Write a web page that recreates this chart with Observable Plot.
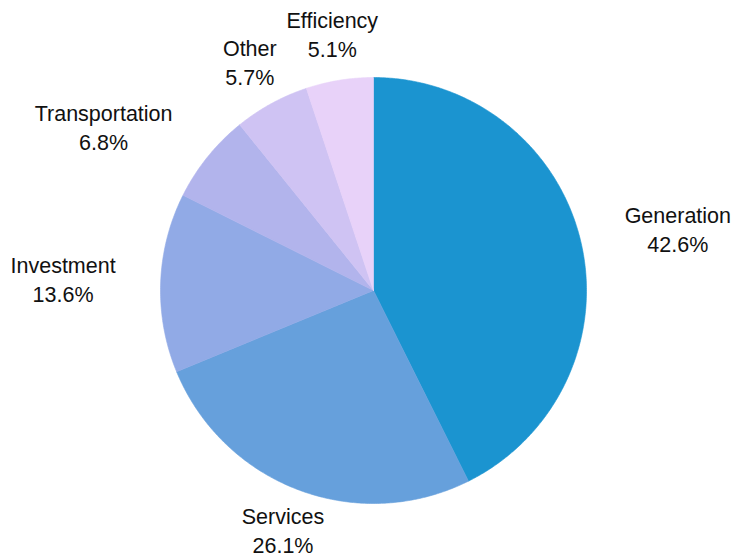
<!DOCTYPE html>
<html><head><meta charset="utf-8">
<script src="https://cdn.jsdelivr.net/npm/d3@7"></script>
<script src="https://cdn.jsdelivr.net/npm/@observablehq/plot@0.6"></script>
<style>body{margin:0;background:#fff}</style>
</head><body><div id="chart"></div>
<script>
const categories = ["Generation", "Services", "Investment", "Transportation", "Other", "Efficiency"];
const shares = [42.6, 26.1, 13.6, 6.8, 5.7, 5.1];
const colors = ["#1b94d0", "#66a0dc", "#91aae6", "#b2b4ec", "#cfc3f3", "#e8d2f9"];

const W = 733, H = 556, R = 213, LR = 258;
const FONT_SIZE = 21.5, FONT = "'Liberation Sans', Arial, sans-serif";
const total = d3.sum(shares);
let acc = 0;
const slices = categories.map((c, i) => {
  const a0 = acc / total * 2 * Math.PI; acc += shares[i];
  const a1 = acc / total * 2 * Math.PI;
  return {c, v: shares[i], a0, a1};
});
const pts = [];
for (const s of slices) {
  pts.push({c: s.c, x: 0, y: 0});
  const n = Math.max(2, Math.ceil((s.a1 - s.a0) / (Math.PI / 360)));
  for (let k = 0; k <= n; k++) {
    const a = s.a0 + (s.a1 - s.a0) * k / n;
    pts.push({c: s.c, x: R * Math.sin(a), y: R * Math.cos(a)});
  }
  pts.push({c: s.c, x: 0, y: 0});
}
const ctx = document.createElement("canvas").getContext("2d");
ctx.font = `${FONT_SIZE}px ${FONT}`;
const labels = slices.map(s => {
  const m = (s.a0 + s.a1) / 2;
  const sx = Math.sin(m), cy = Math.cos(m);
  const lines = [s.c, s.v.toFixed(1) + "%"];
  const w = Math.max(...lines.map(l => ctx.measureText(l).width));
  const shift = Math.abs(cy) >= 0.85 ? 0 : Math.sign(sx) * w / 2;
  return {text: lines.join("\n"), x: LR * sx + shift, y: LR * cy};
});

const chart = Plot.plot({
  width: W, height: H, margin: 0,
  x: {domain: [-373, W - 373], range: [0, W], axis: null},
  y: {domain: [-(H - 290), 290], range: [H, 0], axis: null},
  color: {domain: categories, range: colors},
  style: {background: "#fff"},
  marks: [
    Plot.line(pts, {x: "x", y: "y", z: "c", fill: "c", stroke: "c", strokeWidth: 0.6}),
    Plot.text(labels, {x: "x", y: "y", text: "text", textAnchor: "middle", lineAnchor: "middle", dy: -3,
      lineHeight: 1.35, fontSize: FONT_SIZE, fontFamily: FONT, fill: "#111"})
  ]
});
document.getElementById("chart").appendChild(chart);
</script>
</body></html>
